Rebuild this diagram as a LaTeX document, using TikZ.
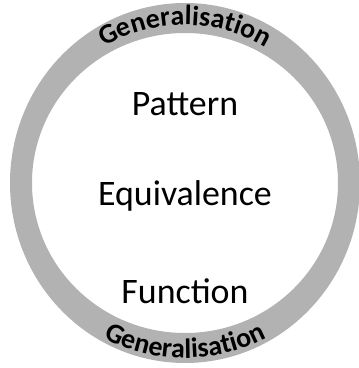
\documentclass[tikz,border=0pt]{standalone}
\usepackage{fontspec}
\setmainfont{Carlito}
\usetikzlibrary{decorations.text}
\begin{document}
\begin{tikzpicture}
		    [x=1bp,y=1bp,%%%%%%%%%%%%%%%%%%%%%%%%%%%%%%
		        word/.style={anchor=base,inner sep=0pt,font=\fontsize{36}{40}\selectfont},
		        ringtext/.style={decorate,decoration={text along path,text align=center,
		            text={|\bfseries\fontsize{28}{28}\selectfont|Generalisation}}},
		    ]%%%%%%%%%%%%%%%%%%%%%%%%%%%%%%
		\useasboundingbox (0,0) rectangle (359,368);
		\fill[gray!60,even odd rule] (185,185) ellipse [x radius=175,y radius=180]
		    (185,185) ellipse [x radius=153,y radius=150];
		\node[word] (pattern) at (185,253) {Pattern};
		\node[word] (equiv) at (185,163) {Equivalence};
		\node[word] (function) at (185,65) {Function};
		\path[ringtext] (185,185) ++(130:158) arc[start angle=130,end angle=50,radius=158];
		\path[ringtext] (185,185) ++(235:175) arc[start angle=235,end angle=305,radius=175];
		\end{tikzpicture}
\end{document}
